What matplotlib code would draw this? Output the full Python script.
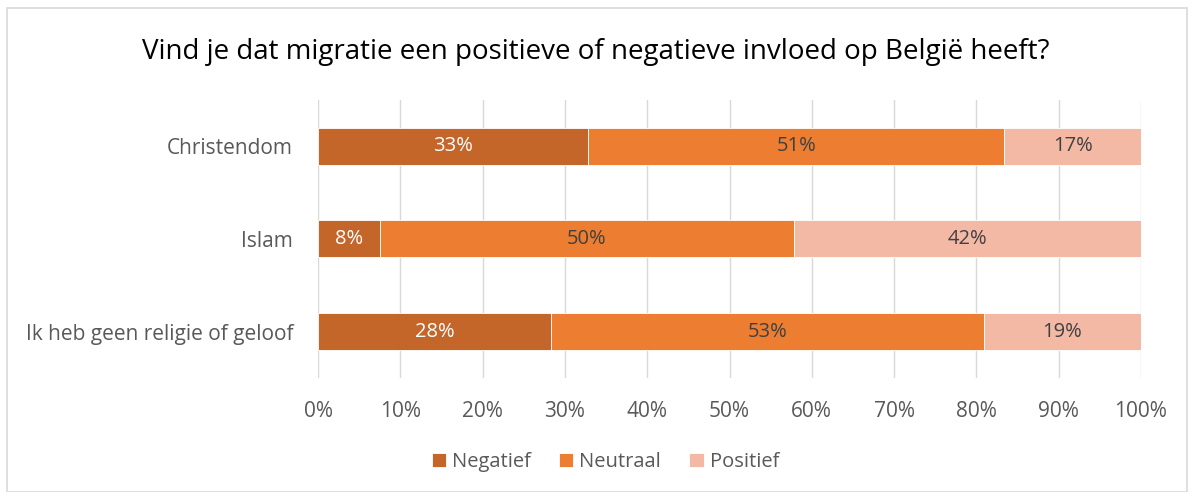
import matplotlib.pyplot as plt
from matplotlib.patches import Rectangle

categories = ['Christendom', 'Islam', 'Ik heb geen religie of geloof']
negatief = [32.8, 7.5, 28.3]
neutraal = [50.6, 50.3, 52.6]
positief = [16.6, 42.2, 19.1]
series_names = ['Negatief', 'Neutraal', 'Positief']
colors = ['#C4652A', '#ED7D31', '#F4B9A5']
label_colors = ['white', '#404040', '#404040']

plt.rcParams['font.family'] = ['Open Sans', 'DejaVu Sans']

fig = plt.figure(figsize=(11.92, 4.92), dpi=100)
fig.patches.append(Rectangle((0.006, 0.0), 0.99, 0.984, transform=fig.transFigure,
                             fill=False, edgecolor='#D9D9D9', linewidth=1.2))
ax = fig.add_axes([0.2668, 0.232, 0.6904, 0.565])

y = list(range(len(categories)))
left = [0] * len(categories)
for vals, name, c, lc in zip([negatief, neutraal, positief], series_names, colors, label_colors):
    bars = ax.barh(y, vals, left=left, height=0.4, color=c, edgecolor='white',
                   linewidth=0.6, label=name, zorder=3)
    for i, v in enumerate(vals):
        ax.text(left[i] + v / 2, y[i], '%d%%' % round(v), ha='center', va='center',
                color=lc, fontsize=14.5, zorder=4)
    left = [l + v for l, v in zip(left, vals)]

ax.set_xlim(0, 100)
ax.set_ylim(2.5, -0.5)
ax.set_xticks(range(0, 101, 10))
ax.set_xticklabels(['%d%%' % t for t in range(0, 101, 10)])
ax.set_yticks(y)
ax.set_yticklabels(categories)
ax.tick_params(axis='both', length=0, labelsize=15, colors='#595959')
ax.tick_params(axis='x', pad=17)
ax.tick_params(axis='y', pad=18)
ax.grid(axis='x', color='#D9D9D9', linewidth=1, zorder=0)
for s in ax.spines.values():
    s.set_visible(False)

fig.text(0.5, 0.895, 'Vind je dat migratie een positieve of negatieve invloed op België heeft?',
         ha='center', va='center', fontsize=20, color='black')

handles, labels = ax.get_legend_handles_labels()
fig.legend(handles, labels, loc='center', bbox_to_anchor=(0.508, 0.06), ncol=3,
           frameon=False, fontsize=14.5, labelcolor='#595959', handlelength=0.7,
           handleheight=0.7, handletextpad=0.3, columnspacing=1.4)

plt.savefig('out.png', dpi=100)
